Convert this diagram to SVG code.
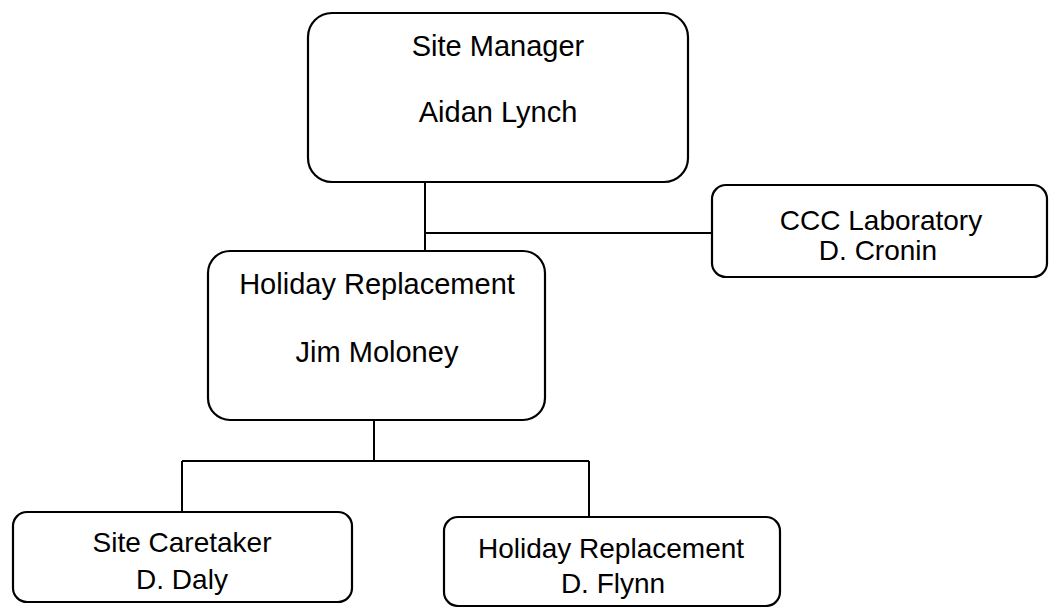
<svg xmlns="http://www.w3.org/2000/svg" width="1051" height="607" viewBox="0 0 1051 607">
<style>
.box{fill:#fff;stroke:#000;stroke-width:2.2}
.ln{stroke:#000;stroke-width:2;fill:none}
text{font-family:"Liberation Sans",Arial,sans-serif;font-size:28px;fill:#000;text-anchor:middle}
.big{font-size:29px}
</style>
<rect width="1051" height="607" fill="#fff"/>
<g id="connectors">
<path class="ln" d="M425 182V251M425 233H712"/>
<path class="ln" d="M374 420V461M182 461H589M182 461V512M589 461V517"/>
</g>
<g id="site-manager">
<rect class="box" x="308" y="13" width="380" height="169" rx="24"/>
<text class="big" x="498" y="56">Site Manager</text>
<text class="big" x="498" y="122">Aidan Lynch</text>
</g>
<g id="ccc-lab">
<rect class="box" x="712" y="185" width="335" height="92" rx="14"/>
<text x="881" y="230">CCC Laboratory</text>
<text x="878" y="260">D. Cronin</text>
</g>
<g id="holiday-jim">
<rect class="box" x="208" y="251" width="337" height="169" rx="22"/>
<text class="big" x="377" y="294">Holiday Replacement</text>
<text class="big" x="377" y="362">Jim Moloney</text>
</g>
<g id="site-caretaker">
<rect class="box" x="13" y="512" width="339" height="90" rx="14"/>
<text x="182" y="552">Site Caretaker</text>
<text x="182" y="589">D. Daly</text>
</g>
<g id="holiday-flynn">
<rect class="box" x="444" y="517" width="336" height="89" rx="14"/>
<text x="611" y="558">Holiday Replacement</text>
<text x="613" y="593">D. Flynn</text>
</g>
</svg>
